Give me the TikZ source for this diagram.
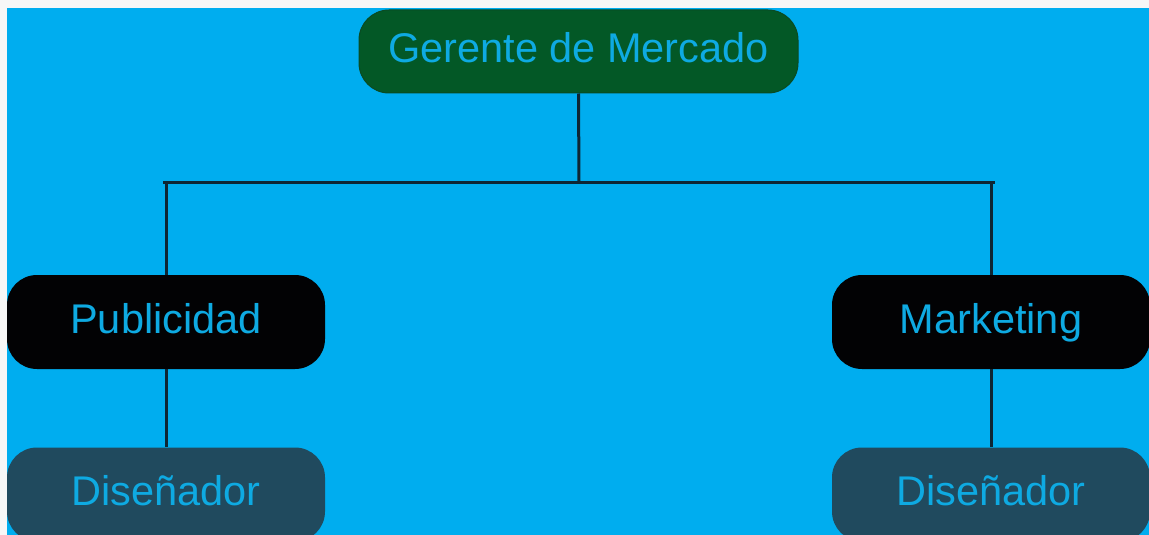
\documentclass[tikz,border=0pt]{standalone}
\usepackage{fontspec}
\setmainfont{Liberation Sans}
\definecolor{pagebg}{RGB}{247,247,247}
\definecolor{skyblue}{RGB}{0,173,239}
\definecolor{txtblue}{RGB}{14,170,226}
\definecolor{mgrgreen}{RGB}{3,88,38}
\definecolor{mgredge}{RGB}{10,75,35}
\definecolor{deptblack}{RGB}{2,2,4}
\definecolor{desfill}{RGB}{32,74,94}
\definecolor{linecol}{RGB}{14,38,52}
\begin{document}
\begin{tikzpicture}[x=1pt,y=-1pt,
  box/.style={rounded corners=30pt, text=txtblue, font=\fontsize{41.5}{48}\selectfont, inner sep=0pt, text height=30pt, text depth=8pt, align=center},
  mgr/.style={box, fill=mgrgreen, draw=mgredge, line width=1pt, minimum width=439pt, minimum height=83pt},
  dept/.style={box, fill=deptblack, minimum width=318pt, minimum height=94pt},
  des/.style={box, fill=desfill, minimum width=318pt, minimum height=94pt},
  conn/.style={draw=linecol, line width=3pt}
]
\useasboundingbox (0,0) rectangle (1149,535);
\fill[pagebg] (0,0) rectangle (1149,535);
\fill[skyblue] (7,8) rectangle (1149,535);
\begin{scope}
\clip (7,8) rectangle (1149,535);
\node[mgr] (ger) at (578.5,51.5) {Gerente de Mercado};
\node[dept] (pub) at (166,322) {Publicidad};
\node[dept] (mkt) at (991,322) {Marketing};
\node[des] (desL) at (166,494.5) {Diseñador};
\node[des] (desR) at (991,494.5) {Diseñador};
\coordinate (busL) at (163,182);
\coordinate (busR) at (995,182);
\coordinate (busM) at (579,182);
\draw[conn] (busL) -- (busR);
\draw[conn] (ger.south) -- (busM);
\draw[conn] (pub.north) -- (pub.north |- busL);
\draw[conn] (mkt.north) -- (mkt.north |- busR);
\draw[conn] (pub.south) -- (desL.north);
\draw[conn] (mkt.south) -- (desR.north);
\end{scope}
\end{tikzpicture}
\end{document}
